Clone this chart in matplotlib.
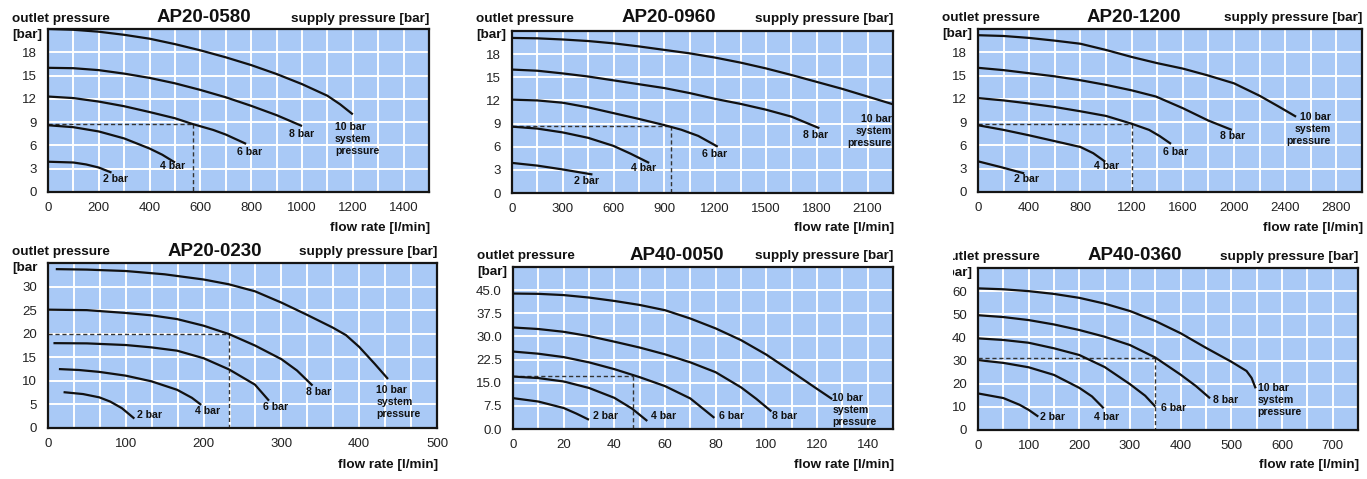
import numpy as np
import matplotlib
matplotlib.use("Agg")
import matplotlib.pyplot as plt
from matplotlib.patches import Rectangle

plt.rcParams["font.family"] = ["Liberation Sans", "DejaVu Sans"]

# ==========================================
# DATOS
# ==========================================

curve_names = ["10 bar", "8 bar", "6 bar", "4 bar", "2 bar"]

# AP20-0580
ap20_0580 = {
    "10 bar": ([0, 100, 200, 300, 400, 500, 600, 700, 800, 900, 1000, 1100, 1150, 1200],
               [21.0, 20.9, 20.65, 20.25, 19.75, 19.05, 18.25, 17.35, 16.35, 15.2, 13.9, 12.4, 11.3, 10.0]),
    "8 bar": ([0, 100, 200, 300, 400, 500, 600, 700, 800, 900, 1000],
              [16.0, 15.95, 15.7, 15.25, 14.7, 14.0, 13.15, 12.2, 11.1, 9.9, 8.5]),
    "6 bar": ([0, 100, 200, 300, 400, 500, 570, 650, 700, 780],
              [12.3, 12.1, 11.65, 11.05, 10.3, 9.5, 8.75, 8.0, 7.4, 6.2]),
    "4 bar": ([0, 100, 200, 300, 400, 450, 500],
              [8.6, 8.35, 7.8, 6.9, 5.6, 4.8, 3.8]),
    "2 bar": ([0, 100, 150, 200, 250],
              [3.9, 3.8, 3.55, 3.15, 2.5]),
}

# AP20-0960
ap20_0960 = {
    "10 bar": ([0, 150, 300, 450, 600, 750, 900, 1050, 1200, 1350, 1500, 1650, 1800, 1950, 2100, 2250],
               [20.1, 20.05, 19.9, 19.7, 19.4, 19.0, 18.55, 18.1, 17.55, 16.9, 16.15, 15.3, 14.4, 13.5, 12.5, 11.5]),
    "8 bar": ([0, 150, 300, 450, 600, 750, 900, 1050, 1200, 1350, 1500, 1650, 1815],
              [16.0, 15.85, 15.5, 15.1, 14.6, 14.1, 13.6, 12.95, 12.2, 11.55, 10.8, 9.9, 8.4]),
    "6 bar": ([0, 150, 300, 450, 600, 750, 900, 1000, 1100, 1215],
              [12.1, 12.0, 11.7, 11.1, 10.35, 9.6, 8.8, 8.2, 7.4, 6.0]),
    "4 bar": ([0, 150, 300, 450, 600, 700, 810],
              [8.6, 8.35, 7.85, 7.15, 6.1, 5.1, 3.9]),
    "2 bar": ([0, 150, 300, 475],
              [3.9, 3.55, 3.05, 2.4]),
}

# AP20-1200
ap20_1200 = {
    "10 bar": ([0, 200, 400, 600, 800, 1000, 1200, 1400, 1600, 1800, 2000, 2200, 2350, 2485],
               [20.2, 20.1, 19.85, 19.5, 19.1, 18.3, 17.4, 16.6, 15.9, 15.0, 14.0, 12.4, 11.0, 9.7]),
    "8 bar": ([0, 200, 400, 600, 800, 1000, 1200, 1390, 1600, 1800, 1983],
              [16.0, 15.7, 15.3, 14.9, 14.4, 13.8, 13.1, 12.3, 10.8, 9.2, 8.0]),
    "6 bar": ([0, 200, 400, 600, 800, 1000, 1200, 1337, 1420, 1508],
              [12.1, 11.8, 11.4, 10.95, 10.4, 9.8, 8.8, 8.0, 7.2, 6.2]),
    "4 bar": ([0, 200, 400, 600, 800, 900, 994],
              [8.6, 8.0, 7.3, 6.55, 5.8, 5.0, 3.9]),
    "2 bar": ([0, 180, 361],
              [3.95, 3.2, 2.4]),
}

# AP20-0230
ap20_0230 = {
    "10 bar": ([10, 50, 100, 150, 200, 232, 266, 300, 333, 366, 383, 400, 420, 437],
               [33.7, 33.6, 33.3, 32.6, 31.5, 30.5, 29.0, 26.6, 24.0, 21.3, 19.7, 17.2, 13.6, 10.4]),
    "8 bar": ([0, 50, 100, 133, 166, 200, 233, 266, 300, 320, 340],
              [25.1, 25.0, 24.4, 23.9, 23.1, 21.7, 19.9, 17.5, 14.6, 12.2, 9.0]),
    "6 bar": ([7, 50, 100, 133, 166, 200, 233, 266, 284],
              [18.0, 17.95, 17.6, 17.1, 16.4, 14.8, 12.4, 9.2, 5.8]),
    "4 bar": ([14, 40, 66, 100, 133, 166, 185, 197],
              [12.5, 12.3, 11.9, 11.1, 9.9, 8.1, 6.4, 4.9]),
    "2 bar": ([20, 45, 66, 80, 95, 111],
              [7.6, 7.2, 6.5, 5.6, 4.2, 2.0]),
}

# AP40-0050
ap40_0050 = {
    "10 bar": ([0, 10, 20, 30, 40, 50, 60, 70, 80, 90, 100, 110, 120, 126],
               [43.9, 43.8, 43.4, 42.6, 41.5, 40.2, 38.5, 35.8, 32.6, 28.8, 24.1, 18.6, 13.0, 9.7]),
    "8 bar": ([0, 10, 20, 30, 40, 50, 60, 70, 80, 90, 96, 102],
              [32.9, 32.4, 31.5, 30.1, 28.3, 26.4, 24.2, 21.6, 18.4, 13.5, 9.8, 5.7]),
    "6 bar": ([0, 10, 20, 30, 40, 50, 60, 70, 79.5],
              [25.1, 24.4, 23.3, 21.6, 19.4, 16.8, 13.9, 9.9, 3.6]),
    "4 bar": ([0, 10, 20, 30, 40, 47, 53],
              [17.0, 16.5, 15.4, 13.3, 10.1, 6.6, 2.6]),
    "2 bar": ([0, 10, 20, 25, 30],
              [10.0, 8.9, 6.8, 5.0, 3.0]),
}

# AP40-0360
ap40_0360 = {
    "10 bar": ([0, 50, 100, 150, 200, 250, 300, 350, 400, 450, 500, 530, 540, 548],
               [61.2, 60.8, 60.0, 58.8, 57.1, 54.6, 51.4, 47.1, 41.8, 35.5, 29.5, 25.5, 22.5, 18.0]),
    "8 bar": ([0, 50, 100, 150, 200, 250, 300, 350, 400, 430, 458],
              [49.6, 48.8, 47.5, 45.6, 43.2, 40.3, 36.7, 31.3, 23.9, 19.0, 13.7]),
    "6 bar": ([0, 50, 100, 150, 200, 250, 300, 330, 350],
              [39.6, 38.9, 37.7, 35.3, 32.4, 27.2, 19.8, 14.8, 10.1]),
    "4 bar": ([0, 50, 100, 150, 200, 225, 248],
              [30.2, 29.0, 27.1, 23.8, 18.2, 14.5, 9.4]),
    "2 bar": ([0, 50, 82, 100, 119],
              [15.8, 13.8, 10.9, 8.7, 5.8]),
}

# punto de ejemplo (linea discontinua): caudal, presion
ejemplo_0580 = (570, 8.7)
ejemplo_0960 = (940, 8.7)
ejemplo_1200 = (1200, 8.7)
ejemplo_0230 = (233, 20.0)
ejemplo_0050 = (47.3, 17.3)
ejemplo_0360 = (350, 31.2)

# ==========================================
# CONFIGURACION DE PANELES
# ==========================================

W, H = 1367, 479
BG = "#a9c9f6"

paneles = [
    dict(title="AP20-0580", data=ap20_0580, ej=ejemplo_0580,
         box=(48, 429, 29, 192), xlim=1500, xstep=200, xgrid=100,
         ylim=21, ystep=3, yfmt="{:.0f}", title_x=204, row_y=18,
         bar_text="[bar]", flow_y=228,
         labels={"10 bar": (1130, 9.0, "left"), "8 bar": (950, 7.5, "left"),
                 "6 bar": (745, 5.2, "left"), "4 bar": (440, 3.4, "left"),
                 "2 bar": (215, 1.7, "left")}),
    dict(title="AP20-0960", data=ap20_0960, ej=ejemplo_0960,
         box=(512, 893, 31, 193), xlim=2250, xstep=300, xgrid=150,
         ylim=21, ystep=3, yfmt="{:.0f}", title_x=669, row_y=18,
         bar_text="[bar]", flow_y=228,
         labels={"10 bar": (2243, 10.2, "right"), "8 bar": (1717, 7.5, "left"),
                 "6 bar": (1125, 5.1, "left"), "4 bar": (705, 3.2, "left"),
                 "2 bar": (365, 1.5, "left")}),
    dict(title="AP20-1200", data=ap20_1200, ej=ejemplo_1200,
         box=(978, 1362, 29, 192), xlim=3000, xstep=400, xgrid=200,
         ylim=21, ystep=3, yfmt="{:.0f}", title_x=1134, row_y=17,
         bar_text="[bar]", flow_y=228,
         labels={"10 bar": (2756, 10.3, "right"), "8 bar": (1890, 7.2, "left"),
                 "6 bar": (1443, 5.2, "left"), "4 bar": (910, 3.4, "left"),
                 "2 bar": (282, 1.7, "left")}),
    dict(title="AP20-0230", data=ap20_0230, ej=ejemplo_0230,
         box=(48, 437, 263, 428), xlim=500, xstep=100, xgrid=500 / 15,
         ylim=35, ystep=5, yfmt="{:.0f}", title_x=215, row_y=251,
         bar_text="[bar", flow_y=465,
         labels={"10 bar": (422, 9.2, "left"), "8 bar": (331, 7.7, "left"),
                 "6 bar": (276, 4.4, "left"), "4 bar": (189, 3.7, "left"),
                 "2 bar": (115, 2.8, "left")}),
    dict(title="AP40-0050", data=ap40_0050, ej=ejemplo_0050,
         box=(513, 893, 267, 429), xlim=150, xstep=20, xgrid=10,
         ylim=52.5, ystep=7.5, yfmt="{:.1f}", title_x=677, row_y=255,
         bar_text="[bar]", flow_y=465,
         labels={"10 bar": (126, 11.6, "left"), "8 bar": (102.2, 4.1, "left"),
                 "6 bar": (81.5, 4.1, "left"), "4 bar": (54.5, 4.1, "left"),
                 "2 bar": (31.5, 4.1, "left")}),
    dict(title="AP40-0360", data=ap40_0360, ej=ejemplo_0360,
         box=(978, 1358, 268, 430), xlim=750, xstep=100, xgrid=50,
         ylim=70, ystep=10, yfmt="{:.0f}", title_x=1135, row_y=256,
         bar_text="[bar]", flow_y=465,
         labels={"10 bar": (552, 20.1, "left"), "8 bar": (463, 13.0, "left"),
                 "6 bar": (362, 9.6, "left"), "4 bar": (229, 5.8, "left"),
                 "2 bar": (122, 5.8, "left")}),
]

# ==========================================
# FIGURA
# ==========================================

fig = plt.figure(figsize=(W / 100, H / 100), dpi=100)
fig.patch.set_facecolor("white")


def fx(px):
    return px / W


def fy(py):
    return 1 - py / H


for p in paneles:
    l, r, t, b = p["box"]
    ax = fig.add_axes([fx(l), fy(b), (r - l) / W, (b - t) / H])
    ax.set_facecolor(BG)
    ax.set_xlim(0, p["xlim"])
    ax.set_ylim(0, p["ylim"])

    # rejilla blanca
    for gx in np.arange(p["xgrid"], p["xlim"] - 1e-6, p["xgrid"]):
        ax.axvline(gx, color="white", lw=1.4, zorder=1)
    yticks = np.arange(0, p["ylim"] - 1e-6, p["ystep"])
    for gy in yticks[1:]:
        ax.axhline(gy, color="white", lw=1.4, zorder=1)

    xticks = np.arange(0, p["xlim"] + 1e-6, p["xstep"])
    ax.set_xticks(xticks)
    ax.set_xticklabels([f"{v:.0f}" for v in xticks])
    ax.set_yticks(yticks)
    ax.set_yticklabels([p["yfmt"].format(v) for v in yticks])
    ax.tick_params(length=0, labelsize=9.5, colors="#222222", pad=7)
    ax.tick_params(axis="y", pad=8)

    for s in ax.spines.values():
        s.set_linewidth(1.6)
        s.set_color("#151515")

    # curvas
    for name in curve_names:
        xs, ys = p["data"][name]
        ax.plot(xs, ys, color="#111111", lw=1.6, zorder=3,
                solid_capstyle="butt", solid_joinstyle="round")

    # punto de ejemplo
    ex, ey = p["ej"]
    ax.plot([0, ex], [ey, ey], color="#333333", lw=1.0, dashes=(3, 2), zorder=2)
    ax.plot([ex, ex], [ey, 0], color="#333333", lw=1.0, dashes=(3, 2), zorder=2)

    # etiquetas de las curvas
    for name in curve_names:
        lx, ly, ha = p["labels"][name]
        txt = name + "\nsystem\npressure" if name == "10 bar" else name
        ax.text(lx, ly, txt, ha=ha, va="top" if name == "10 bar" else "center",
                fontsize=7.6, fontweight="bold", color="#111111",
                linespacing=1.25, zorder=4)

    # textos de cabecera
    fig.text(fx(p["title_x"]), fy(p["row_y"]), p["title"], ha="center",
             va="center", fontsize=13.5, fontweight="bold", color="#111111")
    fig.text(fx(l - 36), fy(p["row_y"] + 1), "outlet pressure", ha="left",
             va="center", fontsize=9.7, fontweight="bold", color="#111111")
    fig.text(fx(l - 36), fy(p["row_y"] + 17), p["bar_text"], ha="left",
             va="center", fontsize=9.7, fontweight="bold", color="#111111")
    fig.text(fx(r), fy(p["row_y"] + 1), "supply pressure [bar]", ha="right",
             va="center", fontsize=9.7, fontweight="bold", color="#111111")
    fig.text(fx(r + 1), fy(p["flow_y"]), "flow rate [l/min]", ha="right",
             va="center", fontsize=9.7, fontweight="bold", color="#111111")

# recorte del panel AP40-0360 (el texto aparece cortado en el original)
fig.add_artist(Rectangle((fx(920), fy(285)), fx(953) - fx(920),
                         fy(240) - fy(285), transform=fig.transFigure,
                         facecolor="white", edgecolor="none", zorder=10))

fig.savefig("out.png", dpi=100)
